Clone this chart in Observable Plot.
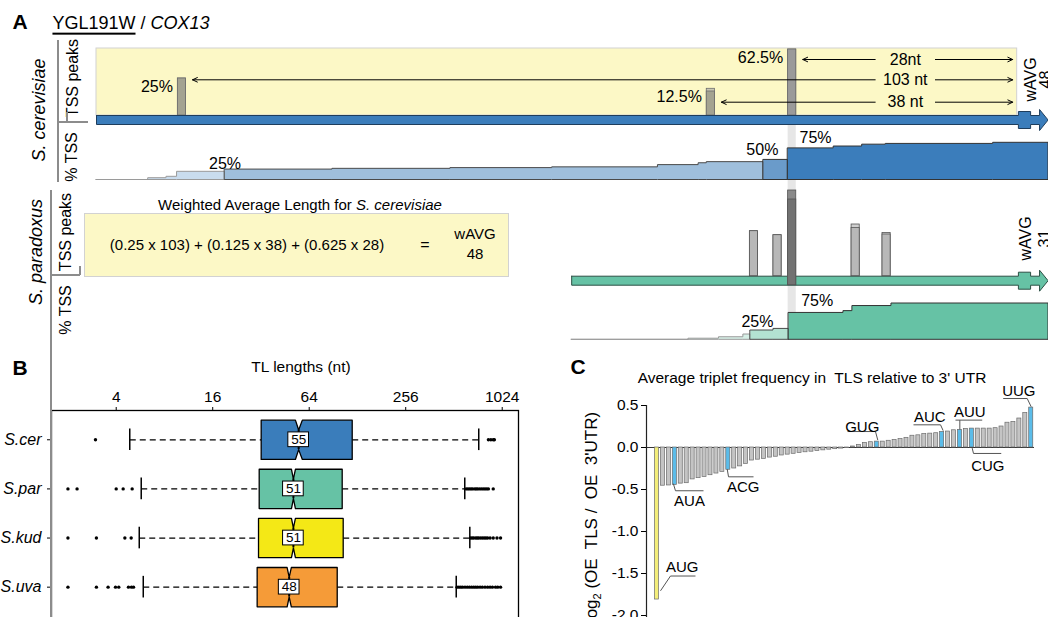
<!DOCTYPE html>
<html><head><meta charset="utf-8">
<script src="https://cdn.jsdelivr.net/npm/d3@7"></script>
<script src="https://cdn.jsdelivr.net/npm/@observablehq/plot@0.6"></script>
<style>
body{margin:0;background:#fff;}
#root{position:relative;width:1048px;height:617px;overflow:hidden;font-family:"Liberation Sans",Arial,Helvetica,sans-serif;color:#000;background:#fff;}
.abs{position:absolute;white-space:nowrap;line-height:1.15;}
.plot{position:absolute;}
.ln{position:absolute;background:#8c8c8c;}
</style></head><body><div id="root"></div>
<script>
// ================= DATA =================
// ---- Panel A : YGL191W / COX13, S. cerevisiae ----
const cerGeneStart = -113;                 // nt relative to start codon
const cerPeakPos = [-103, -38, -28];
const cerPeakShare = [0.25, 0.125, 0.625];
const cerPeakLabel = ["25%", "12.5%", "62.5%"];
const cerPeakHeight = [37, 24, 66];
const cerPeakTop = [37, 26.7, 66];
const cerDistLabels = ["103 nt", "38 nt", "28nt"];
const cerCumPos = [-113, -106.6, -104.4, -103.1, -97.2, -84, -69.5, -57, -44, -39, -38, -31, -28, -22.4, -18.9, -16, -2.8];
const cerCumPct = [0, 4.8, 8.6, 22, 28, 30, 32, 34, 40, 45, 48, 54, 85, 90, 95, 97, 100];
const cerSegStart = [-113, -106.6, -97.2, -31, -28];
const cerLevelLabels = ["25%", "50%", "75%"];
// ---- Panel A : S. paradoxus ----
const parGeneStart = -54.6;
const parPeakPos = [-32.7, -29.8, -28, -20.2, -16.4];
const parPeakHeight = [45, 41, 76.7, 48.3, 41.7];
const parPeakTop = [45, 41, 85.7, 51.7, 43.3];
const parCumPos = [-54.6, -40.2, -36.5, -33.5, -32.6, -29.8, -27.9, -21.2, -20.1, -15.3];
const parCumPct = [0, 3, 7, 14.6, 25.6, 30, 74, 79, 93, 100];
const parSegStart = [-54.6, -40.2, -32.6, -27.9];
const parLevelLabels = ["25%", "75%"];
const parWavg = 31;
const mainTss = -28;

// ---- Panel B : TL lengths (nt) ----
const species = ["S.cer", "S.par", "S.kud", "S.uva"];
const tlQ1 = [32.1, 31.2, 30.9, 30.3];
const tlMedian = [55, 51, 51, 48];
const tlQ3 = [118.7, 102.8, 104.3, 95.7];
const tlNotchLo = [52.5, 49.6, 49.6, 46.6];
const tlNotchHi = [58, 52.5, 52.5, 49.5];
const tlWhiskerLo = [4.86, 5.73, 5.57, 5.9];
const tlWhiskerHi = [731, 598, 643, 529];
const tlOutliers = [
  [2.97, 840, 870, 900, 915],
  [2.0, 2.28, 4.0, 4.42, 5.03, 610, 625, 640, 655, 670, 690, 705, 720, 740, 760, 780, 800, 820, 840, 900],
  [2.0, 3.01, 4.53, 4.96, 650, 665, 680, 700, 715, 730, 750, 770, 790, 810, 830, 860, 900, 950, 1000],
  [2.0, 3.01, 3.56, 3.96, 4.15, 4.77, 4.98, 5.13, 535, 550, 565, 580, 600, 620, 640, 660, 680, 700, 720, 745, 770, 800, 830, 860, 890, 930, 960, 1000]
];

// ---- Panel C : log2(OE TLS / OE 3'UTR), triplets sorted ----
const tripletLog2 = [
  -1.81, -0.455, -0.452, -0.445, -0.43, -0.425, -0.38, -0.365, -0.35, -0.33, -0.31, -0.29, -0.265,
  -0.25, -0.225, -0.195, -0.155, -0.145, -0.135, -0.12, -0.11, -0.095, -0.085, -0.075, -0.065,
  -0.057, -0.05, -0.042, -0.034, -0.026, -0.02, -0.013, -0.007,
  0.012, 0.03, 0.055, 0.063, 0.07, 0.07, 0.08, 0.09, 0.10, 0.115, 0.14, 0.145, 0.16, 0.165, 0.17,
  0.185, 0.19, 0.205, 0.21, 0.22, 0.225, 0.225, 0.225, 0.225, 0.23, 0.25, 0.295, 0.305, 0.345, 0.41, 0.475
];
const calloutCodon = ["AUG", "AUA", "ACG", "GUG", "AUC", "AUU", "CUG", "UUG"];
const calloutRank = [1, 4, 13, 38, 49, 52, 54, 64];
const yTicksC = [0.5, 0, -0.5, -1, -1.5, -2];
const xTicksB = [4, 16, 64, 256, 1024];

// ================= LAYOUT =================
const FONT = '"Liberation Sans", Arial, Helvetica, sans-serif';
const root = document.getElementById("root");
const base = {cerPk: 115, cerCum: 179.5, parPk: 275.7, parCum: 339.3};
const kCer = 0.372, kPar = 0.363, geneH = 9, yellowTop = 48;
const arrowY = [79.3, 101.7, 59];
const distLabelPos = -13.6, distGapLeft = -17.3, distGapRight = -9.9;
const cerLevelLayout = [{pos: -97.2, y: 163.3, a: "middle"}, {pos: -29.2, y: 149, a: "end"}, {pos: -26.6, y: 137.3, a: "start"}];
const parLevelLayout = [{pos: -29.8, y: 321.7, a: "end"}, {pos: -26.4, y: 300, a: "start"}];
const wavgLayout = [{x: 1.79, x2: 3.64, y: 79}, {x: 1.18, x2: 3.58, y: 238}];
const calloutLayout = [
  {tx: 5.24, ty: -1.43, lx1: 3.27, lx2: 7.48, ly: -1.53, sx: 3.27, ex: 1.59, ey: -1.706},
  {tx: 6.47, ty: -0.635, lx1: 4.11, lx2: 8.83, ly: -0.515, sx: 4.11, ex: 3.75, ey: -0.43},
  {tx: 15.51, ty: -0.476, lx1: 13.04, lx2: 17.25, ly: -0.349, sx: 13.04, ex: 12.82, ey: -0.257},
  {tx: 35.55, ty: 0.246, lx1: 33.07, lx2: 37.78, ly: 0.19, sx: 37.78, ex: 38.17, ey: 0.088},
  {tx: 46.93, ty: 0.357, lx1: 44.18, lx2: 48.73, ly: 0.27, sx: 48.73, ex: 49.18, ey: 0.2},
  {tx: 53.66, ty: 0.417, lx1: 51.25, lx2: 55.75, ly: 0.326, sx: 51.98, ex: 51.98, ey: 0.215},
  {tx: 56.69, ty: -0.218, lx1: 54.28, lx2: 58.95, ly: -0.071, sx: 54.28, ex: 54.06, ey: -0.007},
  {tx: 61.91, ty: 0.675, lx1: 59.28, lx2: 63.32, ly: 0.583, sx: 63.32, ex: 63.99, ey: 0.485}
];

const K = v => () => v;

// ================= PANEL A =================
const maxShare = Math.max(...cerPeakShare);
const cerPeaks = cerPeakPos.map((pos, i) => ({pos, h: cerPeakHeight[i], top: cerPeakTop[i], label: cerPeakLabel[i], main: cerPeakShare[i] === maxShare}));
const cerWavg = Math.round(d3.sum(cerPeakPos, (p, i) => -p * cerPeakShare[i]));
const cerDists = cerPeakPos.map((p, i) => ({pos: p, label: cerDistLabels[i], y: arrowY[i]}));
const parPeaks = parPeakPos.map((pos, i) => ({pos, h: parPeakHeight[i], top: parPeakTop[i], main: Math.abs(pos - mainTss) < 0.5}));

function buildSegments(pos, pct, starts, end) {
  const valAt = x => { let v = 0; pos.forEach((p, i) => { if (p <= x + 1e-9) v = pct[i]; }); return v; };
  return starts.map((a, s) => {
    const b = s + 1 < starts.length ? starts[s + 1] : end;
    const pts = [{x: a, v: valAt(a)}];
    pos.forEach((p, i) => { if (p > a + 1e-9 && p < b - 1e-9) pts.push({x: p, v: pct[i]}); });
    pts.push({x: b, v: valAt(b - 1e-6)});
    return pts;
  });
}
const geneShape = (start, b) => [
  [start, b], [0.3, b], [0.3, b - 4], [1.8, b - 4], [1.8, b], [2.9, b], [2.9, b - 6], [3.95, b + 4.5],
  [2.9, b + 15], [2.9, b + 9], [1.8, b + 9], [1.8, b + 13], [0.3, b + 13], [0.3, b + 9], [start, b + 9], [start, b]
].map(([x, y]) => ({x, y}));

const cerSegs = buildSegments(cerCumPos, cerCumPct, cerSegStart, 4);
const cerSegFill = ["none", "#c9dcee", "#9fbfdc", "#6a9bca", "#3b7dbb"];
const cerSegStroke = ["#9a9a9a", "#9a9a9a", "#4a4a4a", "#333", "#333"];
const parSegs = buildSegments(parCumPos, parCumPct, parSegStart, 4);
const parSegFill = ["none", "#d6efe6", "#b3e2d2", "#66c2a5"];
const parSegStroke = ["#9a9a9a", "#9a9a9a", "#4a4a4a", "#333"];

const plotA = Plot.plot({
  width: 1048, height: 345, marginLeft: 96, marginRight: 0, marginTop: 0, marginBottom: 0,
  x: {domain: [-113, 4], axis: null},
  y: {domain: [345, 0], axis: null},
  style: {fontFamily: FONT, background: "transparent", overflow: "visible"},
  marks: [
    Plot.rect([mainTss], {x1: d => d, x2: d => d + 1, y1: K(124), y2: K(313), fill: "#e6e6e6"}),
    Plot.rect([cerGeneStart], {x1: d => d, x2: K(0.15), y1: K(yellowTop), y2: K(base.cerPk), fill: "#fcf8c6", stroke: "#d2d2d2"}),
    ...cerSegs.map((pts, s) => Plot.area(pts, {x1: "x", y1: K(base.cerCum), y2: d => base.cerCum - d.v * kCer, curve: "step-after", fill: cerSegFill[s], stroke: cerSegStroke[s], strokeWidth: 1})),
    Plot.rect(cerPeaks, {x1: "pos", x2: d => d.pos + 1, y1: K(base.cerPk), y2: d => base.cerPk - d.top, fill: d => d.main ? "#9a9a9a" : "#c9c7b3", stroke: "#6d6d6d", strokeWidth: 0.8}),
    Plot.rect(cerPeaks, {x1: "pos", x2: d => d.pos + 1, y1: K(base.cerPk), y2: d => base.cerPk - d.h, fill: d => d.main ? "#9a9a9a" : "#a4a391", stroke: "#6d6d6d", strokeWidth: 0.8}),
    Plot.text(cerPeaks, {x: d => d.pos - 0.6, y: d => base.cerPk - d.top + 8, text: "label", textAnchor: "end", fontSize: 16}),
    Plot.arrow(cerDists, {x1: K(distGapLeft), x2: d => d.pos + 1.8, y1: "y", y2: "y", stroke: "black", strokeWidth: 1, headLength: 8, headAngle: 50}),
    Plot.arrow(cerDists, {x1: K(distGapRight), x2: K(-0.4), y1: "y", y2: "y", stroke: "black", strokeWidth: 1, headLength: 8, headAngle: 50}),
    Plot.text(cerDists, {x: K(distLabelPos), y: "y", text: "label", fontSize: 16}),
    Plot.line(geneShape(cerGeneStart, base.cerPk), {x: "x", y: "y", fill: "#3b7dbb", stroke: "#1e3d5c", strokeWidth: 1}),
    Plot.line(geneShape(parGeneStart, base.parPk), {x: "x", y: "y", fill: "#66c2a5", stroke: "#2c4f44", strokeWidth: 1}),
    Plot.rect(parPeaks, {x1: "pos", x2: d => d.pos + 1, y1: d => d.main ? base.parPk + geneH : base.parPk, y2: d => base.parPk - d.top, fill: d => d.main ? "#8a8a8a" : "#cfcfcf", stroke: "#555", strokeWidth: 0.8}),
    Plot.rect(parPeaks, {x1: "pos", x2: d => d.pos + 1, y1: d => d.main ? base.parPk + geneH : base.parPk, y2: d => base.parPk - d.h, fill: d => d.main ? "#727272" : "#b8b8b8", stroke: "#555", strokeWidth: 0.8}),
    ...parSegs.map((pts, s) => Plot.area(pts, {x1: "x", y1: K(base.parCum), y2: d => base.parCum - d.v * kPar, curve: "step-after", fill: parSegFill[s], stroke: parSegStroke[s], strokeWidth: 1})),
    ...cerLevelLabels.map((t, i) => Plot.text([t], {x: K(cerLevelLayout[i].pos), y: K(cerLevelLayout[i].y), text: d => d, textAnchor: cerLevelLayout[i].a, fontSize: 16})),
    ...parLevelLabels.map((t, i) => Plot.text([t], {x: K(parLevelLayout[i].pos), y: K(parLevelLayout[i].y), text: d => d, textAnchor: parLevelLayout[i].a, fontSize: 16})),
    Plot.text(["wAVG", "wAVG"], {x: (d, i) => wavgLayout[i].x, y: (d, i) => wavgLayout[i].y, text: d => d, rotate: -90, fontSize: 16}),
    Plot.text([cerWavg, parWavg], {x: (d, i) => wavgLayout[i].x2, y: (d, i) => wavgLayout[i].y, text: d => String(d), rotate: -90, fontSize: 16})
  ]
});
plotA.classList.add("plot");
plotA.style.left = "0px"; plotA.style.top = "0px";
root.appendChild(plotA);

// ================= PANEL B =================
const hH = 0.4, notchD = 0.2;
const rowsB = species.map((sp, i) => ({sp, r: i + 1, q1: tlQ1[i], med: tlMedian[i], q3: tlQ3[i], nlo: tlNotchLo[i], nhi: tlNotchHi[i], wlo: tlWhiskerLo[i], whi: tlWhiskerHi[i]}));
const colorB = ["#3a7dbb", "#66c2a5", "#f4e816", "#f59b38"];
const outB = tlOutliers.flatMap((arr, i) => arr.map(v => ({v, r: i + 1})));
const boxPoly = d => [[d.q1, d.r - hH], [d.nlo, d.r - hH], [d.med, d.r - hH + notchD], [d.nhi, d.r - hH], [d.q3, d.r - hH],
  [d.q3, d.r + hH], [d.nhi, d.r + hH], [d.med, d.r + hH - notchD], [d.nlo, d.r + hH], [d.q1, d.r + hH], [d.q1, d.r - hH]].map(([x, y]) => ({x, y}));

const plotB = Plot.plot({
  width: 560, height: 290, marginLeft: 51, marginRight: 42, marginTop: 60, marginBottom: 10,
  x: {type: "log", base: 2, domain: [1.579, 1294]},
  y: {domain: [4.882, 0.404]},
  style: {fontFamily: FONT, background: "transparent", overflow: "visible"},
  marks: [
    Plot.frame({stroke: "black", strokeWidth: 1.3}),
    Plot.axisX({anchor: "top", ticks: xTicksB, tickFormat: d => String(d), tickSize: 4, tickPadding: 5, fontSize: 15.5, label: null}),
    Plot.axisY({anchor: "left", ticks: [1, 2, 3, 4], tickFormat: i => species[i - 1], tickSize: 4, tickPadding: 6, fontSize: 16, fontStyle: "italic", label: null}),
    Plot.link(rowsB, {x1: "wlo", x2: "q1", y1: "r", y2: "r", stroke: "black", strokeWidth: 1.2, strokeDasharray: "6,4"}),
    Plot.link(rowsB, {x1: "q3", x2: "whi", y1: "r", y2: "r", stroke: "black", strokeWidth: 1.2, strokeDasharray: "6,4"}),
    Plot.ruleX(rowsB, {x: "wlo", y1: d => d.r - 0.22, y2: d => d.r + 0.22, stroke: "black", strokeWidth: 1.5}),
    Plot.ruleX(rowsB, {x: "whi", y1: d => d.r - 0.22, y2: d => d.r + 0.22, stroke: "black", strokeWidth: 1.5}),
    Plot.dot(outB, {x: "v", y: "r", r: 1.7, fill: "black", stroke: "none"}),
    ...rowsB.map((d, i) => Plot.line(boxPoly(d), {x: "x", y: "y", fill: colorB[i], stroke: "black", strokeWidth: 1.3})),
    Plot.ruleX(rowsB, {x: "med", y1: d => d.r - hH + notchD, y2: d => d.r + hH - notchD, stroke: "black", strokeWidth: 2}),
    Plot.rect(rowsB, {x1: d => d.med / 1.16, x2: d => d.med * 1.16, y1: d => d.r - 0.15, y2: d => d.r + 0.15, fill: "white", stroke: "black", strokeWidth: 1}),
    Plot.text(rowsB, {x: "med", y: "r", text: d => String(d.med), fontSize: 13.5})
  ]
});
plotB.classList.add("plot");
plotB.style.left = "0px"; plotB.style.top = "350px";
root.appendChild(plotB);

// ================= PANEL C =================
const barsC = tripletLog2.map((v, i) => ({rank: i + 1, v}));
const hiSet = new Set(calloutRank);
const callouts = calloutCodon.map((c, i) => ({codon: c, rank: calloutRank[i], ...calloutLayout[i]}));
const xMinC = -0.768, xMaxC = 64.55;
const plotC = Plot.plot({
  width: 488, height: 275, marginLeft: 86, marginRight: 14, marginTop: 55, marginBottom: 10,
  x: {domain: [xMinC, xMaxC], axis: null},
  y: {domain: [-2, 0.5], axis: null},
  style: {fontFamily: FONT, background: "transparent", overflow: "visible"},
  marks: [
    Plot.ruleY([0], {stroke: "#333", strokeWidth: 1}),
    Plot.rect(barsC, {x1: d => d.rank - 0.34, x2: d => d.rank + 0.34, y1: K(0), y2: "v",
      fill: d => d.rank === 1 ? "#f4ee7a" : hiSet.has(d.rank) ? "#5bbce9" : "#c4c4c4", stroke: "#6b6b6b", strokeWidth: 0.7}),
    Plot.ruleX([xMinC], {y1: K(0.5), y2: K(-2.05), stroke: "#222", strokeWidth: 1.2}),
    Plot.axisY({anchor: "left", ticks: yTicksC, tickFormat: d => d.toFixed(1), tickSize: 5, tickPadding: 3, fontSize: 15.5, label: null}),
    Plot.link(callouts, {x1: "lx1", x2: "lx2", y1: "ly", y2: "ly", stroke: "#555", strokeWidth: 1}),
    Plot.link(callouts, {x1: "sx", x2: "ex", y1: "ly", y2: "ey", stroke: "#555", strokeWidth: 1}),
    Plot.text(callouts, {x: "tx", y: "ty", text: "codon", fontSize: 15})
  ]
});
plotC.classList.add("plot");
plotC.style.left = "560px"; plotC.style.top = "350px";
root.appendChild(plotC);

// ================= HTML TEXT / DECORATIONS =================
function txt(html, x, y, o = {}) {
  const d = document.createElement("div");
  d.className = "abs";
  d.innerHTML = html;
  d.style.left = x + "px"; d.style.top = y + "px";
  d.style.fontSize = (o.size || 16) + "px";
  if (o.bold) d.style.fontWeight = "bold";
  if (o.italic) d.style.fontStyle = "italic";
  d.style.transform = o.rot ? "translate(-50%,-50%) rotate(-90deg)" : "translate(-50%,-50%)";
  root.appendChild(d); return d;
}
function ln(x, y, w, h, c) {
  const d = document.createElement("div");
  d.className = "ln";
  d.style.left = x + "px"; d.style.top = y + "px"; d.style.width = w + "px"; d.style.height = h + "px";
  if (c) d.style.background = c;
  root.appendChild(d);
}
// panel A headers
txt("A", 20, 22, {size: 21, bold: true});
txt('<span style="text-decoration:underline;text-underline-offset:4px;text-decoration-thickness:1.5px">YGL191W</span> / <i>COX13</i>', 131, 23, {size: 18});
txt("S. cerevisiae", 39, 110, {size: 18, italic: true, rot: true});
txt("TSS peaks", 73, 78, {size: 16, rot: true});
txt("% TSS", 72, 157, {size: 16, rot: true});
txt("S. paradoxus", 36, 252, {size: 18, italic: true, rot: true});
txt("TSS peaks", 66, 232, {size: 16, rot: true});
txt("% TSS", 66, 310, {size: 16, rot: true});
ln(57, 40, 2, 142); ln(57, 121, 31, 2); ln(66, 112, 1.5, 10);
ln(50, 190, 2, 430); ln(50, 274, 30, 2); ln(79, 266, 1.5, 9);
// weighted average box
const wbox = document.createElement("div");
wbox.style.cssText = "position:absolute;left:84px;top:213px;width:423px;height:62px;background:#fcf8c6;border:1px solid #d2d2d2;";
root.appendChild(wbox);
txt("Weighted Average Length for <i>S. cerevisiae</i>", 300, 205, {size: 15});
const formula = cerPeakShare.map((s, i) => `(${s} x ${-cerPeakPos[i]})`).join(" + ");
txt(formula, 247, 245, {size: 15});
txt("=", 425, 245, {size: 16});
txt("wAVG", 475, 234, {size: 15});
txt(String(cerWavg), 475, 254, {size: 15});
// panel B headers
txt("B", 20, 368, {size: 21, bold: true});
txt("TL lengths (nt)", 301, 367, {size: 15.5});
// panel C headers
txt("C", 578, 367, {size: 21, bold: true});
txt("Average triplet frequency in&nbsp; TLS relative to 3' UTR", 812, 378, {size: 15.5});
txt("log<sub style='font-size:11px'>2</sub> (OE&nbsp; TLS /&nbsp; OE&nbsp; 3'UTR)", 593, 517, {size: 17, rot: true});
</script></body></html>
